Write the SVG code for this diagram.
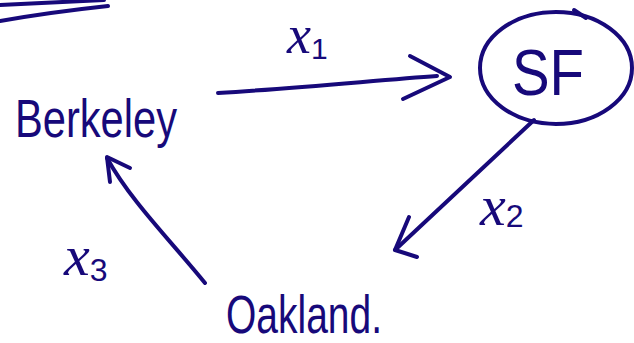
<svg xmlns="http://www.w3.org/2000/svg" width="634" height="343" viewBox="0 0 634 343">
  <style>
    .ink { fill: none; stroke: #17097a; stroke-width: 4; stroke-linecap: round; stroke-linejoin: round; }
    .name { font-family: "Liberation Sans", Arial, sans-serif; fill: #17097a; }
    .var { font-family: "Liberation Serif", "Times New Roman", serif; font-style: italic; fill: #17097a; }
    .sub { font-family: "Liberation Sans", Arial, sans-serif; fill: #17097a; }
  </style>
  <rect width="634" height="343" fill="#ffffff"/>

  <!-- strokes along the top-left edge -->
  <g id="edge-strokes">
    <path class="ink" d="M0 5 L104 0"/>
    <path class="ink" d="M0 21 C40 14 80 9 108 6"/>
  </g>

  <g id="node-berkeley">
    <text class="name" x="15" y="137" font-size="54" textLength="162" lengthAdjust="spacingAndGlyphs">Berkeley</text>
  </g>

  <g id="node-sf">
    <ellipse class="ink" cx="556" cy="68" rx="76" ry="56"/>
    <path class="ink" d="M574 10 L586 18"/>
    <text class="name" x="512" y="95" font-size="64" textLength="72" lengthAdjust="spacingAndGlyphs">SF</text>
  </g>

  <g id="node-oakland">
    <text class="name" x="226" y="333" font-size="54" textLength="156" lengthAdjust="spacingAndGlyphs">Oakland.</text>
  </g>

  <g id="connectors">
    <!-- Berkeley to SF -->
    <path class="ink" d="M218 93 C300 88 380 80 437 76"/>
    <path class="ink" d="M410 56 L450 77 L403 99"/>
    <!-- SF to Oakland -->
    <path class="ink" d="M534 120 L395 250"/>
    <path class="ink" d="M409 217 L395 250 L417 257"/>
    <!-- Oakland to Berkeley -->
    <path class="ink" d="M205 283 C170 240 130 200 107 158"/>
    <path class="ink" d="M110 182 L107 157 L130 168"/>
  </g>

  <g id="labels">
    <text class="var" x="287" y="53" font-size="54">x<tspan class="sub" font-style="normal" font-size="30" dy="6">1</tspan></text>
    <text class="var" x="480" y="225" font-size="58">x<tspan class="sub" font-style="normal" font-size="32" dy="2">2</tspan></text>
    <text class="var" x="64" y="275" font-size="58">x<tspan class="sub" font-style="normal" font-size="32" dy="6">3</tspan></text>
  </g>
</svg>
